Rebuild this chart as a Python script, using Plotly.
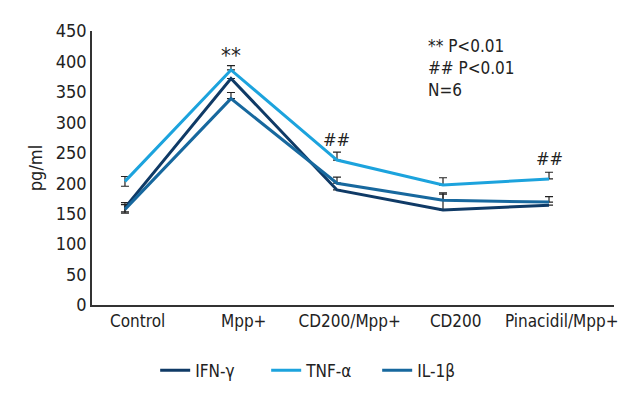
import plotly.graph_objects as go

# ------------------------------Données------------------------------
groups = ['Control', 'Mpp+', 'CD200/Mpp+', 'CD200', 'Pinacidil/Mpp+']

ifn_gamma = [160, 372, 189, 156, 164]
tnf_alpha = [203, 386, 238, 197, 207]
il_1beta = [157, 339, 200, 172, 169]

ifn_err_up = [8, 0, 0, 26, 0]
ifn_err_down = [7, 0, 0, 0, 0]
tnf_err_up = [8, 7, 13, 12, 11]
tnf_err_down = [8, 0, 0, 0, 0]
il_err_up = [8, 10, 10, 12, 9]
il_err_down = [6, 0, 0, 0, 0]

marks = ['', '**', '##', '', '##']
mark_values = [0, 410, 272, 0, 240]

notes = ['** P<0.01', '## P<0.01', 'N=6']

FONT = 'Liberation Sans Narrow, DejaVu Sans Condensed, Arial Narrow, sans-serif'
xs = list(range(len(groups)))

# ------------------------------Tracé------------------------------
fig = go.Figure()

series = [
    ('IFN-γ', ifn_gamma, ifn_err_up, ifn_err_down, '#0f3a66'),
    ('TNF-α', tnf_alpha, tnf_err_up, tnf_err_down, '#1ca3dd'),
    ('IL-1β', il_1beta, il_err_up, il_err_down, '#17689e'),
]

for name, values, up, down, color in series:
    fig.add_trace(go.Scatter(
        x=xs, y=values, mode='lines', name=name,
        line=dict(color=color, width=3),
        error_y=dict(type='data', array=up, arrayminus=down, symmetric=False,
                     color='#222222', thickness=1.2, width=4)))

for i, m in enumerate(marks):
    if m:
        fig.add_annotation(x=i, y=mark_values[i], text=m, showarrow=False,
                           font=dict(family=FONT, size=22 if m == '**' else 18, color='#222222'))

fig.add_annotation(xref='paper', yref='paper', x=0.64, y=0.99, xanchor='left', yanchor='top',
                   text='<br>'.join(notes), showarrow=False, align='left',
                   font=dict(family=FONT, size=17, color='#222222'))

fig.update_xaxes(
    range=[-0.311, 4.613],
    tickvals=[i + 0.12 for i in xs], ticktext=groups,
    showline=True, linecolor='#333333', linewidth=1.5,
    showgrid=False, zeroline=False, ticks='',
    tickfont=dict(family=FONT, size=17, color='#222222'))
fig.update_yaxes(
    range=[0, 450], dtick=50,
    showline=True, linecolor='#333333', linewidth=1.5,
    showgrid=False, zeroline=False, ticks='',
    title=dict(text='pg/ml', font=dict(family=FONT, size=18, color='#222222'), standoff=8),
    tickfont=dict(family=FONT, size=18, color='#222222'))

# la page ajoute une marge de 8 px : on compense dans les marges
fig.update_layout(
    width=640, height=400,
    margin=dict(l=84, r=34, t=14, b=103),
    plot_bgcolor='white', paper_bgcolor='white',
    legend=dict(orientation='h', x=0.44, xanchor='center', y=-0.24, yanchor='middle',
                bgcolor='rgba(0,0,0,0)', entrywidth=66,
                font=dict(family=FONT, size=17, color='#222222'), itemwidth=30),
)

fig.write_html('out.html')
